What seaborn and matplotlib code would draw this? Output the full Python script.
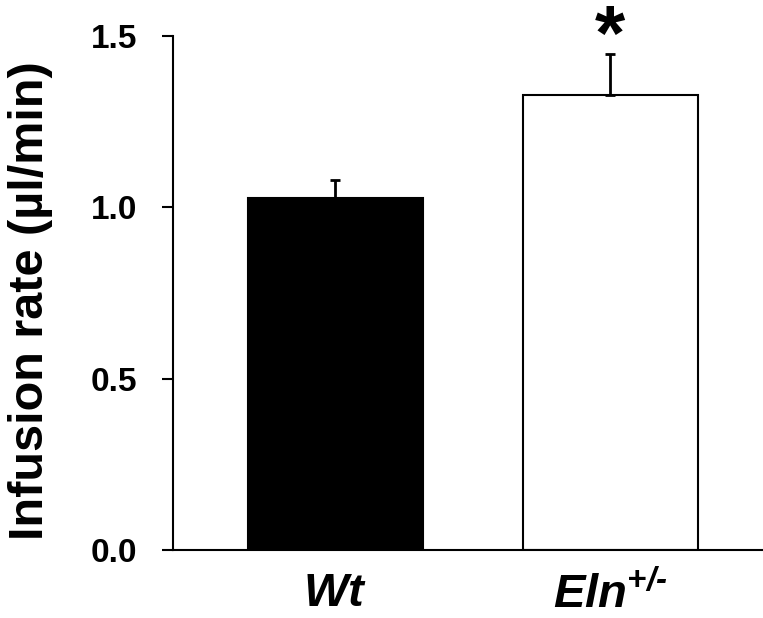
import matplotlib
matplotlib.use("Agg")
import matplotlib.pyplot as plt
import seaborn as sns
import pandas as pd

# данные
groups = ["Wt", "Eln"]
rate = [1.027, 1.328]
sem = [0.053, 0.119]
bar_colors = ["black", "white"]
tick_labels = [r"$\mathbf{\it{Wt}}$", r"$\mathbf{\it{Eln}}^{\text{+/-}}$"]
y_ticks = [0.0, 0.5, 1.0, 1.5]

sns.set_style("ticks")
plt.rcParams["font.family"] = ["Liberation Sans", "DejaVu Sans"]
plt.rcParams["mathtext.fontset"] = "custom"
plt.rcParams["mathtext.it"] = "Liberation Sans:italic:bold"
plt.rcParams["mathtext.bf"] = "Liberation Sans:bold"
plt.rcParams["mathtext.rm"] = "Liberation Sans:italic:bold"
plt.rcParams["text.color"] = "black"
plt.rcParams["axes.labelcolor"] = "black"
plt.rcParams["xtick.color"] = "black"
plt.rcParams["ytick.color"] = "black"

df = pd.DataFrame({"group": groups, "rate": rate})

fig = plt.figure(figsize=(7.63, 6.18), dpi=100)
ax = fig.add_axes([0.2267, 0.110, 0.7733, 0.8317])

sns.barplot(data=df, x="group", y="rate", hue="group", palette=bar_colors,
            edgecolor="black", linewidth=1.5, width=0.636, legend=False, ax=ax)

# только верхние усы
ax.errorbar(range(len(groups)), rate, yerr=[[0, 0], sem], fmt="none",
            ecolor="black", elinewidth=2, capsize=3.5, capthick=2, zorder=1)

# звёздочка значимости
ax.text(1, 1.49, "*", ha="center", va="center", fontsize=56,
        fontweight="bold", color="black", clip_on=False)

ax.set_xlim(-0.591, 1.555)
ax.set_ylim(0, 1.5)
ax.set_yticks(y_ticks)
ax.set_yticklabels([f"{t:.1f}" for t in y_ticks], fontsize=24, fontweight="bold")
ax.set_xticks(range(len(groups)))
ax.set_xticklabels(tick_labels, fontsize=34)
ax.tick_params(axis="y", direction="out", length=8, width=1.5, pad=18)
ax.tick_params(axis="x", length=0, pad=16)
ax.set_xlabel("")
ax.set_ylabel("Infusion rate (µl/min)", fontsize=35, fontweight="bold")
ax.yaxis.set_label_coords(-0.203, 0.485)

for s in ["top", "right"]:
    ax.spines[s].set_visible(False)
for s in ["left", "bottom"]:
    ax.spines[s].set_linewidth(1.5)
    ax.spines[s].set_color("black")

fig.savefig("out.png", dpi=100)
